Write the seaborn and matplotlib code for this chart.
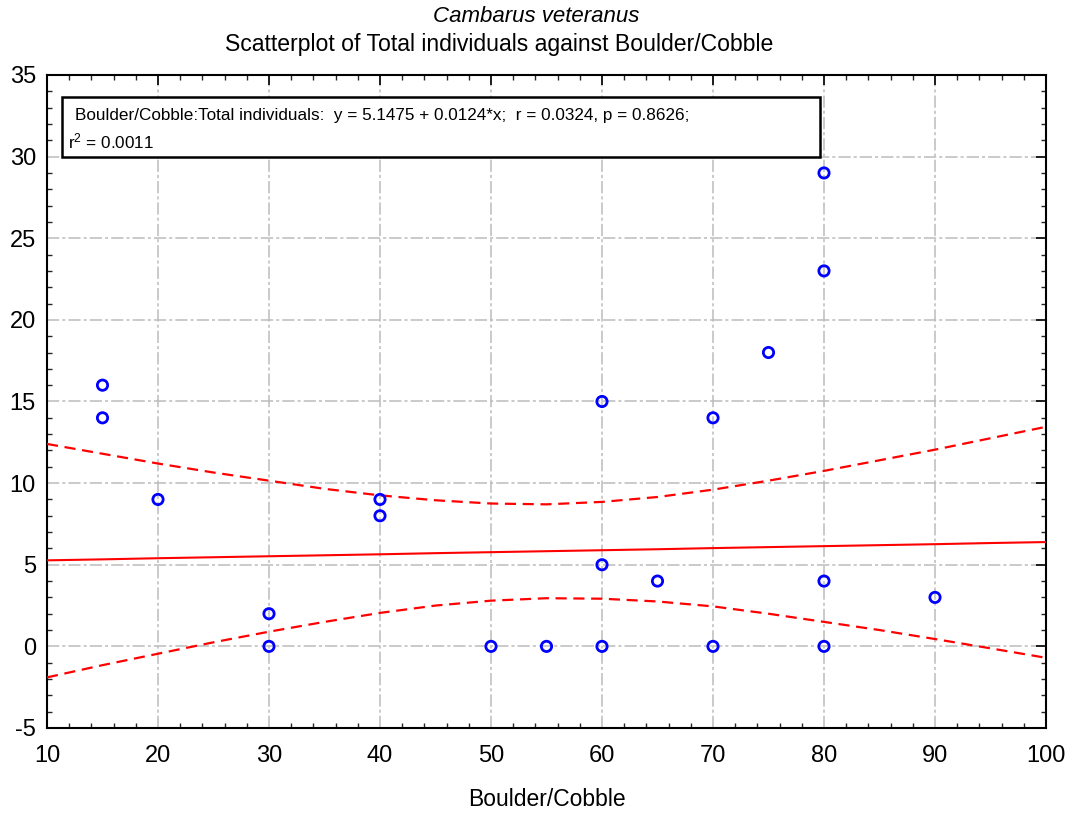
import numpy as np
import pandas as pd
import matplotlib
matplotlib.use("Agg")
import matplotlib.pyplot as plt
from matplotlib.ticker import MultipleLocator
from matplotlib.patches import Rectangle
import seaborn as sns

# Observed points (Boulder/Cobble %, Total individuals)
boulder = [15, 15, 20, 30, 30, 40, 40, 50, 55, 60, 60, 60, 65, 70, 70, 75, 80, 80, 80, 80, 90]
total = [16, 14, 9, 2, 0, 9, 8, 0, 0, 15, 5, 0, 4, 14, 0, 18, 29, 23, 4, 0, 3]

# Fitted line and 95% confidence band
band_x = [10, 15, 20, 25, 30, 35, 40, 45, 50, 55, 60, 65, 70, 75, 80, 85, 90, 95, 100]
fit_y = [5.27, 5.33, 5.40, 5.46, 5.52, 5.58, 5.64, 5.71, 5.77, 5.83, 5.89, 5.95, 6.02, 6.08, 6.14, 6.20, 6.26, 6.33, 6.39]
upper_y = [12.4, 11.8, 11.2, 10.65, 10.15, 9.65, 9.25, 8.95, 8.75, 8.7, 8.85, 9.15, 9.6, 10.15, 10.75, 11.4, 12.05, 12.75, 13.45]
lower_y = [-1.9, -1.15, -0.45, 0.25, 0.9, 1.5, 2.05, 2.5, 2.8, 2.95, 2.92, 2.75, 2.45, 2.0, 1.5, 1.0, 0.45, -0.12, -0.7]

xticks = [10, 20, 30, 40, 50, 60, 70, 80, 90, 100]
yticks = [-5, 0, 5, 10, 15, 20, 25, 30, 35]

sns.set_theme(style="white")
plt.rcParams['font.family'] = ['Liberation Sans', 'DejaVu Sans']
plt.rcParams['axes.unicode_minus'] = False
plt.rcParams['text.color'] = 'black'
plt.rcParams['axes.labelcolor'] = 'black'

fig = plt.figure(figsize=(10.7, 8.15), dpi=100)
ax = fig.add_axes([47/1070, 1 - 728/815, (1046-47)/1070, (728-75)/815])

pts = pd.DataFrame({"Boulder/Cobble": boulder, "Total individuals": total})
band = pd.DataFrame({"x": band_x, "fit": fit_y, "up": upper_y, "lo": lower_y})

sns.lineplot(data=band, x="x", y="fit", ax=ax, color="#ff0000", lw=1.5, zorder=3)
sns.lineplot(data=band, x="x", y="up", ax=ax, color="#ff0000", lw=1.6, ls=(0, (5, 3)), zorder=3)
sns.lineplot(data=band, x="x", y="lo", ax=ax, color="#ff0000", lw=1.6, ls=(0, (5, 3)), zorder=3)
sns.scatterplot(data=pts, x="Boulder/Cobble", y="Total individuals", ax=ax,
                marker="o", s=55, facecolor="none", edgecolor="#0000ff", linewidth=2.0, zorder=4)

ax.set_xlim(10, 100)
ax.set_ylim(-5, 35)
ax.set_xticks(xticks)
ax.set_yticks(yticks)
ax.xaxis.set_minor_locator(MultipleLocator(2))
ax.yaxis.set_minor_locator(MultipleLocator(1))
ax.tick_params(axis="both", which="major", direction="in", length=7, width=1.2,
               top=True, right=True, labelsize=17, colors="black")
ax.tick_params(axis="x", which="major", pad=12)
ax.tick_params(axis="y", which="major", pad=8)
ax.tick_params(axis="both", which="minor", direction="in", length=3.5, width=1,
               top=True, right=True, bottom=True, left=True)
ax.grid(True, which="major", color="#bcbcbc", lw=1.1, ls=(0, (8, 2, 2, 2)))
ax.set_axisbelow(True)
for sp in ax.spines.values():
    sp.set_color("black")
    sp.set_linewidth(1.5)

ax.set_xlabel("Boulder/Cobble", fontsize=16.5)
ax.xaxis.set_label_coords(0.5, (728 - 788) / 653)
ax.set_ylabel("")

fig.text(536/1070, 1 - 17/815, "Cambarus veteranus", ha="center", va="center", fontsize=16, style="italic")
fig.text(499/1070, 1 - 45/815, "Scatterplot of Total individuals against Boulder/Cobble", ha="center", va="center", fontsize=16.6)

# annotation box
bx0, bx1 = (62 - 47) / 999, (820 - 47) / 999
by0, by1 = (728 - 157) / 653, (728 - 97) / 653
ax.add_patch(Rectangle((bx0, by0), bx1 - bx0, by1 - by0, transform=ax.transAxes,
                       facecolor="white", edgecolor="black", lw=1.8, zorder=5))
ax.text((75 - 47) / 999, (728 - 116) / 653,
        "Boulder/Cobble:Total individuals:  y = 5.1475 + 0.0124*x;  r = 0.0324, p = 0.8626;",
        transform=ax.transAxes, ha="left", va="center", fontsize=12.3, zorder=6)
ax.text((68 - 47) / 999, (728 - 141) / 653, "$\\mathregular{r^2}$ = 0.0011",
        transform=ax.transAxes, ha="left", va="center", fontsize=12.3, zorder=6)

fig.savefig("out.png", dpi=100)
